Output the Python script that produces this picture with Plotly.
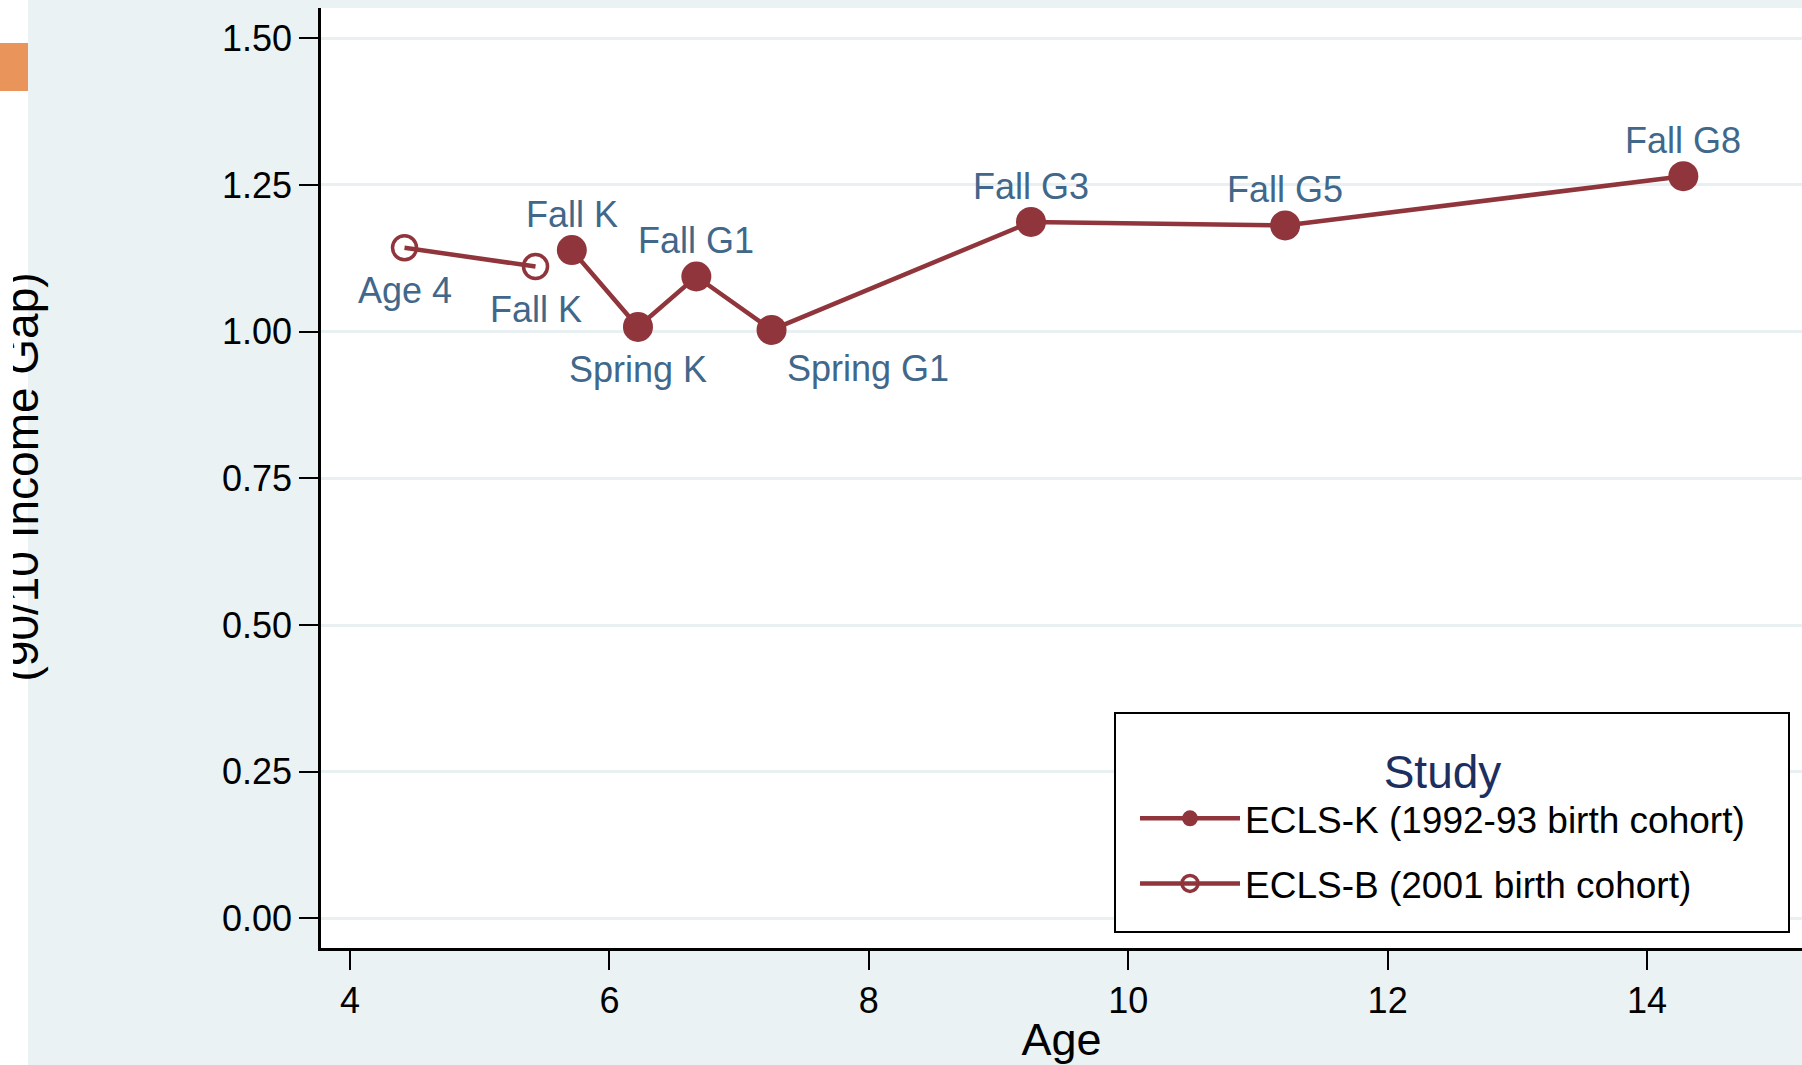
import plotly.graph_objects as go

# ---------------- data ----------------
eclsk_age = [5.71, 6.22, 6.67, 7.25, 9.25, 11.21, 14.28]
eclsk_gap = [1.139, 1.008, 1.094, 1.003, 1.187, 1.181, 1.265]
eclsk_labels = ["Fall K", "Spring K", "Fall G1", "Spring G1", "Fall G3", "Fall G5", "Fall G8"]
eclsk_labelpos = ["above", "below", "above", "below-right", "above", "above", "above"]

eclsb_age = [4.42, 5.43]
eclsb_gap = [1.143, 1.111]
eclsb_labels = ["Age 4", "Fall K"]
eclsb_labelpos = ["below", "below"]

x_ticks = [4, 6, 8, 10, 12, 14]
y_ticks = [0.0, 0.25, 0.5, 0.75, 1.0, 1.25, 1.5]

series_names = ["ECLS-K (1992-93 birth cohort)", "ECLS-B (2001 birth cohort)"]

# ---------------- style ----------------
W, H = 1802, 1065
ML, MR, MT, MB = 321, 0, 8, 117
PW, PH = W - ML - MR, H - MT - MB
BG = "#EAF2F3"
RED = "#90353B"
LABEL = "#41678A"
NAVY = "#1C2F5E"
FONT = "Liberation Sans, Arial, Helvetica, sans-serif"


def px_x(px):
    return (px - ML) / PW


def px_y(py):
    return (H - MB - py) / PH


fig = go.Figure()

fig.add_trace(go.Scatter(
    x=eclsk_age, y=eclsk_gap, mode="lines+markers", name=series_names[0], legendgroup="k",
    line=dict(color=RED, width=4.5),
    marker=dict(symbol="circle", size=30, color=RED, line=dict(width=0)),
))
fig.add_trace(go.Scatter(
    x=eclsb_age, y=eclsb_gap, mode="lines+markers", name=series_names[1], legendgroup="b",
    line=dict(color=RED, width=4.5),
    marker=dict(symbol="circle-open", size=24, color=RED, line=dict(width=3.5, color=RED)),
))

annotations = []
shift = {"above": (0, 35.5, "center"), "below": (0, -43, "center"), "below-right": (13, -39, "left")}
for xs, ys, labs, poss in [(eclsk_age, eclsk_gap, eclsk_labels, eclsk_labelpos),
                           (eclsb_age, eclsb_gap, eclsb_labels, eclsb_labelpos)]:
    for xv, yv, lab, pos in zip(xs, ys, labs, poss):
        dx, dy, anc = shift[pos]
        annotations.append(dict(
            x=xv, y=yv, xref="x", yref="y", text=lab, showarrow=False,
            xanchor=anc, yanchor="middle", xshift=dx, yshift=dy,
            font=dict(family=FONT, size=36, color=LABEL),
        ))

# y-axis title (partly cut by the left edge of the page)
annotations.append(dict(
    x=px_x(21), y=px_y(477.5), xref="paper", yref="paper",
    text="(90/10 Income Gap)", textangle=-90, showarrow=False,
    xanchor="center", yanchor="middle",
    font=dict(family=FONT, size=46, color="black"),
))
# white mask that hides the clipped part of the title
annotations.append(dict(
    x=px_x(0), y=px_y(477.5), xref="paper", yref="paper",
    text=" ", showarrow=False, xanchor="left", yanchor="middle",
    width=13, height=440, bgcolor="white", borderpad=0, borderwidth=0,
))

shapes = [
    # white strip at left page edge
    dict(type="rect", xref="paper", yref="paper", x0=px_x(0), x1=px_x(28), y0=px_y(H), y1=px_y(0),
         fillcolor="white", line=dict(width=0), layer="below"),
    # orange tab
    dict(type="rect", xref="paper", yref="paper", x0=px_x(0), x1=px_x(28), y0=px_y(91), y1=px_y(43),
         fillcolor="#E8945A", line=dict(width=0), layer="below"),
    # legend frame
    dict(type="rect", xref="paper", yref="paper", x0=px_x(1115), x1=px_x(1789), y0=px_y(932), y1=px_y(713),
         fillcolor="white", line=dict(width=2, color="black"), layer="above"),
]

fig.update_layout(
    width=W, height=H,
    margin=dict(l=ML, r=MR, t=MT, b=MB, pad=0),
    paper_bgcolor=BG, plot_bgcolor="white",
    font=dict(family=FONT, color="black"),
    showlegend=True,
    legend=dict(
        x=px_x(1135), y=px_y(728), xref="paper", yref="paper", xanchor="left", yanchor="top",
        bgcolor="rgba(0,0,0,0)", borderwidth=0,
        font=dict(family=FONT, size=37, color="black"),
        title=dict(text="Study", side="top center", font=dict(family=FONT, size=46, color=NAVY)),
        itemwidth=100, tracegroupgap=14, traceorder="grouped",
    ),
    xaxis=dict(
        range=[3.776, 15.195], tickvals=x_ticks, ticktext=[str(v) for v in x_ticks],
        showgrid=False, zeroline=False, showline=True, linecolor="black", linewidth=2.5,
        ticks="outside", ticklen=19, tickwidth=2, tickcolor="black",
        tickfont=dict(family=FONT, size=36, color="black"),
        title=dict(text="Age", font=dict(family=FONT, size=45, color="black"), standoff=4),
    ),
    yaxis=dict(
        range=[-0.0505, 1.5516], tickvals=y_ticks, ticktext=[f"{v:.2f}" for v in y_ticks],
        showgrid=True, gridcolor="#E8F0F2", gridwidth=3, zeroline=False,
        showline=True, linecolor="black", linewidth=2.5,
        ticks="outside", ticklen=19, tickwidth=2, tickcolor="black",
        tickfont=dict(family=FONT, size=36, color="black"),
    ),
    annotations=annotations, shapes=shapes,
)

fig.write_html(
    "out.html",
    config={"displayModeBar": False},
    post_script="document.body.style.margin='0';document.body.style.overflow='hidden';",
)
